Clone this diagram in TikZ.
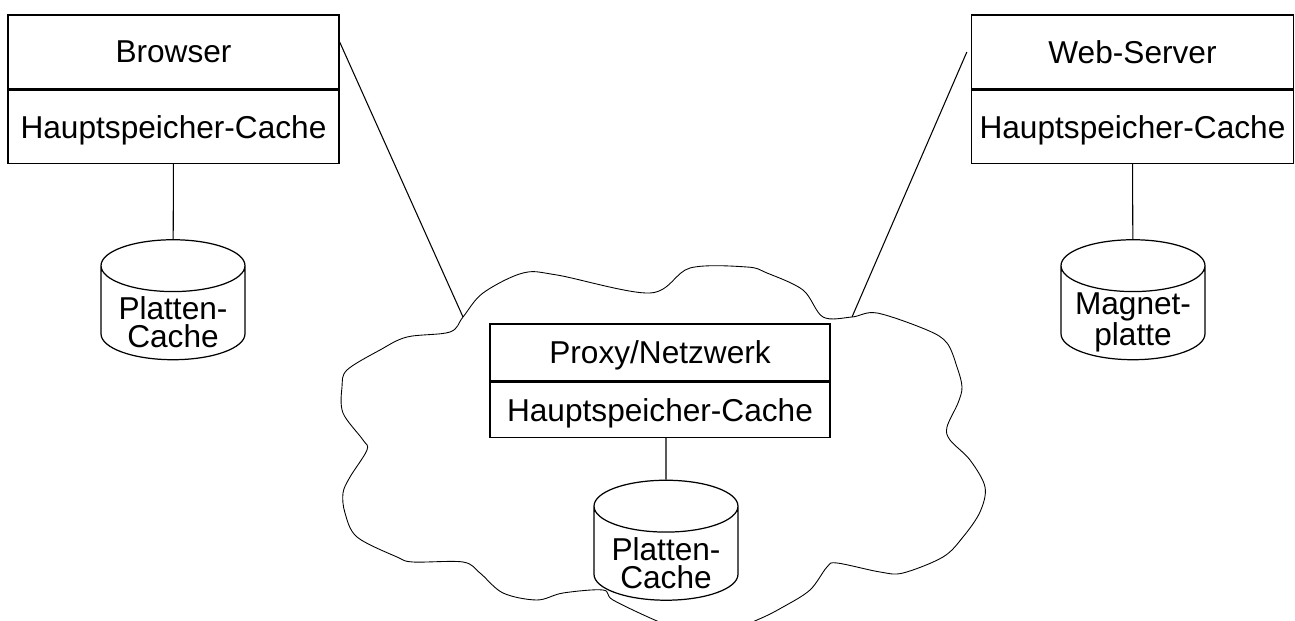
\documentclass[tikz,border=0pt]{standalone}
\usepackage{fontspec}
\setmainfont{Liberation Sans}
\usetikzlibrary{positioning,shapes.geometric}

\begin{document}
\begin{tikzpicture}[
  x=0.02cm, y=-0.02cm,
  node distance=0pt,
  part/.style={draw,line width=0.8pt,inner sep=0pt,align=center,text depth=0pt,font=\fontsize{18}{20}\selectfont},
  disk/.style={cylinder,shape border rotate=90,draw,fill=white,line width=0.7pt,aspect=0.36,
    text width=2.88cm,minimum height=2.4cm,inner sep=0pt},
  disklabel/.style={font=\fontsize{18}{16}\selectfont,align=center,yshift=-0.19cm},
  wire/.style={line width=0.6pt}
]
  \useasboundingbox (0,0) rectangle (1295,621);

  % Wolke fuer das Netzwerk
  \begin{scope}
    \clip (0,0) rectangle (1295,621);
    \draw[line width=0.5pt] plot[smooth cycle,tension=0.55] coordinates {
      (463,317) (483,293) (523,273) (557,275) (650,293) (690,268) (747,267) (767,273)
      (803,290) (823,317) (852,317) (877,313) (927,330) (947,343) (957,367) (962,387)
      (958,403) (947,427) (950,440) (970,460) (985,487) (980,512) (963,537) (943,557)
      (903,573) (880,572) (837,563) (827,567) (810,590) (783,607) (757,620) (705,640)
      (657,621) (613,600) (603,590) (563,593) (537,600) (503,593) (480,573) (463,562)
      (413,562) (397,557) (357,537) (345,513) (343,493) (350,477) (367,450) (363,440)
      (343,413) (342,387) (347,370) (380,350) (407,337) (450,332)};
  \end{scope}
  \coordinate (cloudL) at (463,317);
  \coordinate (cloudR) at (852,317);

  % Client
  \node[part,minimum width=6.62cm,minimum height=1.48cm] (browser) at (173.5,52) {Browser};
  \node[part,minimum width=6.62cm,minimum height=1.46cm,below=of browser] (browsercache) {Hauptspeicher-Cache};
  \node[disk,label={[disklabel]center:Platten-\\Cache}] (browserdisk) at (173,313) {};

  % Server
  \node[part,minimum width=6.44cm,minimum height=1.48cm] (server) at (1132.5,52) {Web-Server};
  \node[part,minimum width=6.44cm,minimum height=1.46cm,below=of server] (servercache) {Hauptspeicher-Cache};
  \node[disk,label={[disklabel]center:Magnet-\\platte}] (serverdisk) at (1133,313) {};

  % Proxy
  \node[part,minimum width=6.8cm,minimum height=1.14cm] (proxy) at (660,352.5) {Proxy/Netzwerk};
  \node[part,minimum width=6.8cm,minimum height=1.1cm,below=of proxy] (proxycache) {Hauptspeicher-Cache};
  \node[disk,label={[disklabel]center:Platten-\\Cache}] (proxydisk) at (666,553.5) {};

  \draw[wire] (browsercache) -- (browserdisk);
  \draw[wire] (servercache) -- (serverdisk);
  \draw[wire] (proxycache.south -| proxydisk) -- (proxydisk);
  \draw[wire] ([yshift=0.2cm]browser.east) -- (cloudL);
  \draw[wire] ([xshift=-0.08cm]server.west) -- (cloudR);
\end{tikzpicture}
\end{document}
